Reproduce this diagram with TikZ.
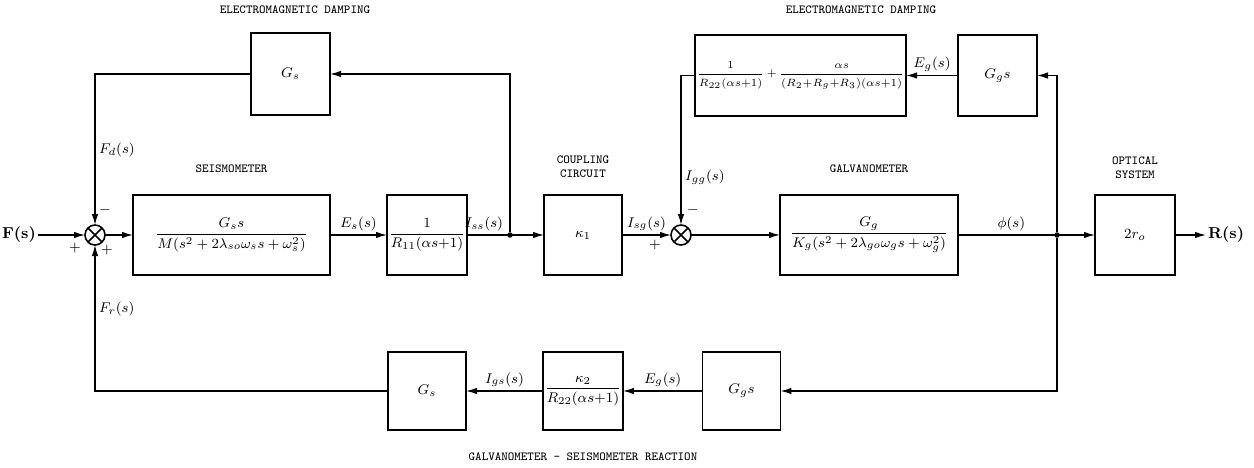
\documentclass[tikz,border=0pt]{standalone}
\usepackage{amsmath}
\usepackage{tikz}
\usetikzlibrary{arrows.meta, positioning}

\begin{document}
\begin{tikzpicture}[
    node distance=1cm and 1cm,
    block/.style={rectangle, draw, line width=1.1pt, minimum height=1.6cm,
                  inner sep=1pt, outer sep=0pt, font=\fontsize{8}{9}\selectfont},
    sumj/.style={circle, draw, line width=0.9pt, minimum size=0.4cm, inner sep=0pt, outer sep=0pt,
                 path picture={\draw[line width=0.9pt]
                   (path picture bounding box.north west) -- (path picture bounding box.south east)
                   (path picture bounding box.north east) -- (path picture bounding box.south west);}},
    sig/.style={-{Latex[length=2.2mm,width=1.3mm]}, line width=0.7pt},
    lbl/.style={font=\fontsize{8}{9}\selectfont, inner sep=2pt},
    ttl/.style={font=\fontsize{7}{8}\selectfont\ttfamily, align=center, inner sep=1pt},
    sgn/.style={font=\fontsize{8}{9}\selectfont, inner sep=0pt},
    dot/.style={circle, fill, inner sep=1.1pt},
    io/.style={font=\fontsize{9}{10}\selectfont\bfseries, inner sep=1pt}
  ]
    \useasboundingbox (0,0) rectangle (25.08,9.34);

    % Forward path
    \node[sumj] (sum1) at (1.90,4.64) {};
    \node[io, left=0.94cm of sum1] (fin) {F(s)};
    \node[block, minimum width=3.94cm, right=0.56cm of sum1] (seis)
      {$\dfrac{G_s s}{M(s^2 + 2\lambda_{so}\omega_s s + \omega_s^2)}$};
    \node[block, minimum width=1.6cm, right=1.14cm of seis] (r11)
      {$\dfrac{1}{R_{11}(\alpha s{+}1)}$};
    \node[block, minimum width=1.56cm, right=1.54cm of r11] (coupl) {$\kappa_1$};
    \node[sumj, right=0.98cm of coupl] (sum2) {};
    \node[block, minimum width=3.56cm, right=1.78cm of sum2] (galv)
      {$\dfrac{G_g}{K_g(s^2 + 2\lambda_{go}\omega_g s + \omega_g^2)}$};
    \node[block, minimum width=1.6cm, right=2.74cm of galv] (optic) {$2r_o$};
    \node[io, right=0.62cm of optic] (rout) {R(s)};

    % Pick-off points
    \node[dot] (tap1) at (10.20,4.64) {};
    \node[dot] (tap2) at (21.14,4.64) {};

    % Damping blocks
    \node[block, minimum width=1.58cm, minimum height=1.64cm] (dmpS) at (5.81,7.86) {$G_s$};
    \node[block, minimum width=3.9cm, minimum height=1.62cm, font=\fontsize{5.9}{7}\selectfont] (dmpG) at (16.01,7.83)
      {$\dfrac{1}{R_{22}(\alpha s{+}1)}\mkern3mu{+}\mkern3mu\dfrac{\alpha s}{(R_2{+}R_g{+}R_3)(\alpha s{+}1)}$};
    \node[block, minimum width=1.58cm, minimum height=1.62cm] (ggT) at (19.95,7.83) {$G_g s$};

    % Reaction blocks
    \node[block, minimum width=1.56cm, minimum height=1.56cm, below=1.54cm of coupl] (kapB)
      {$\dfrac{\kappa_2}{R_{22}(\alpha s{+}1)}$};
    \node[block, minimum width=1.56cm, minimum height=1.56cm, below=1.54cm of r11] (gsB) {$G_s$};
    \node[block, minimum width=1.56cm, minimum height=1.56cm, right=1.59cm of kapB] (ggB) {$G_g s$};

    % Titles
    \node[ttl, above=0.4cm of seis] {SEISMOMETER};
    \node[ttl, above=0.3cm of coupl] {COUPLING\\CIRCUIT};
    \node[ttl, above=0.4cm of galv] {GALVANOMETER};
    \node[ttl, above=0.28cm of optic] {OPTICAL\\SYSTEM};
    \node[ttl] at (5.90,9.14) {ELECTROMAGNETIC DAMPING};
    \node[ttl] at (17.22,9.14) {ELECTROMAGNETIC DAMPING};
    \node[ttl, below=0.42cm of kapB] {GALVANOMETER - SEISMOMETER REACTION};

    % Forward connections
    \draw[sig] (fin) -- (sum1);
    \draw[sig] (sum1) -- (seis);
    \draw[sig] (seis) -- node[lbl, above]{$E_s(s)$} (r11);
    \draw[sig] (r11) -- node[lbl, above, pos=0.22]{$I_{ss}(s)$} (coupl);
    \draw[sig] (coupl) -- node[lbl, above]{$I_{sg}(s)$} (sum2);
    \draw[sig] (sum2) -- (galv);
    \draw[sig] (galv) -- node[lbl, above, pos=0.39]{$\phi(s)$} (optic);
    \draw[sig] (optic) -- (rout);

    % Damping loops
    \draw[sig] (tap1) |- (dmpS);
    \draw[sig] (dmpS) -| node[lbl, right, pos=0.75]{$F_d(s)$} (sum1);
    \draw[sig] (tap2) |- (ggT);
    \draw[sig] (ggT) -- node[lbl, above]{$E_g(s)$} (dmpG);
    \draw[sig] (dmpG) -| node[lbl, right, pos=0.84]{$I_{gg}(s)$} (sum2);

    % Reaction loop
    \draw[sig] (tap2) |- (ggB);
    \draw[sig] (ggB) -- node[lbl, above]{$E_g(s)$} (kapB);
    \draw[sig] (kapB) -- node[lbl, above]{$I_{gs}(s)$} (gsB);
    \draw[sig] (gsB) -| node[lbl, right, pos=0.78]{$F_r(s)$} (sum1);

    % Signs
    \node[sgn] at (2.10,5.14) {$-$};
    \node[sgn] at (1.50,4.38) {$+$};
    \node[sgn] at (2.14,4.34) {$+$};
    \node[sgn] at (13.10,4.44) {$+$};
    \node[sgn] at (13.86,5.14) {$-$};
  \end{tikzpicture}
\end{document}
